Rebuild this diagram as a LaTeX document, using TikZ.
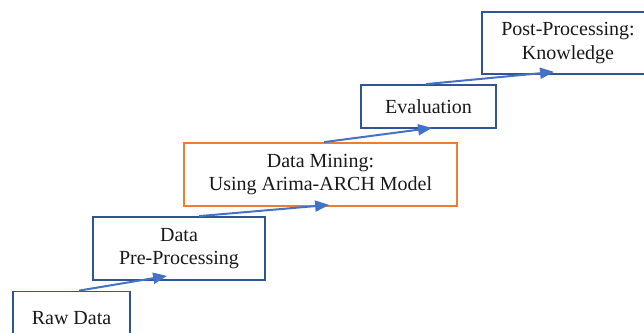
\documentclass[tikz,border=0pt]{standalone}
\usepackage{fontspec}
\setmainfont{Liberation Serif}
\usetikzlibrary{arrows.meta}
\definecolor{boxblue}{HTML}{2F5597}
\definecolor{arrowblue}{HTML}{4472C4}
\definecolor{boxorange}{HTML}{ED7D31}
\begin{document}
\begin{tikzpicture}
[x=1pt,y=-1pt,
  bluebox/.style={shape=rectangle,draw=boxblue,line width=1.8pt,inner sep=0pt,
    align=center,text=black!90,font=\rmfamily\fontsize{20}{23.5}\selectfont},%
  orangebox/.style={bluebox,draw=boxorange},%
  arrowdecorate/.style={draw=arrowblue,line width=2pt,
    -{Triangle[length=14pt,width=11pt]}}]
\useasboundingbox (0,0) rectangle (644,332);
\clip (0,0) rectangle (644,332);
%% steps
\foreach \nodename/\x/\y/\w/\h/\nodestyle/\nodetext in {
  raw/71.5/318/117/53/bluebox/Raw Data,
  prep/179/248.5/172/63/bluebox/Data\\Pre-Processing,
  mining/320.5/174.5/273/63/orangebox/Data Mining:\\Using Arima-ARCH Model,
  eval/428.5/106.5/135/43/bluebox/Evaluation,
  post/568/43/172/62/bluebox/Post-Processing:\\Knowledge} {
  \node (\nodename) at (\x,\y) [\nodestyle,minimum width=\w pt,minimum height=\h pt] {\nodetext};
}
%% arrows between steps
\path
\foreach \startnode/\sx/\endnode/\ex/\ey in {raw/67/prep/75/5,
  prep/107/mining/146/2, mining/141/eval/72/1, eval/66/post/73/3} {
  ([xshift=\sx pt]\startnode.north west) edge[arrowdecorate]
    ([xshift=\ex pt,yshift=\ey pt]\endnode.south west)
};
\end{tikzpicture}
\end{document}
